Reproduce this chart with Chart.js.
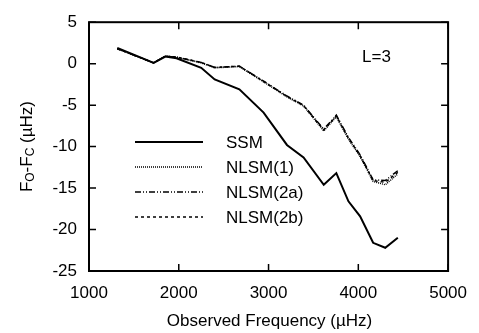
<!DOCTYPE html>
<html>
<head>
<meta charset="utf-8">
<script src="https://cdn.jsdelivr.net/npm/chart.js@4/dist/chart.umd.min.js"></script>
<style>
  body { margin: 0; background: #fff; }
  canvas { display: block; }
</style>
</head>
<body>
<canvas id="myChart" width="479" height="333"></canvas>
<script>
// observed frequencies (uHz) of the L=3 modes
const freqs = [1315, 1720, 1850, 1975, 2250, 2400, 2675, 2945, 3205, 3390, 3615, 3755, 3890, 4020, 4165, 4300, 4440];
// Fo-Fc residuals per model (uHz)
const ssm = [1.9, 0.1, 0.85, 0.65, -0.5, -1.9, -3.1, -5.9, -9.8, -11.3, -14.6, -13.2, -16.6, -18.4, -21.6, -22.2, -21.0];
const nlsm1 = [1.8, 0.1, 0.9, 0.75, 0.1, -0.5, -0.35, -2.2, -4.0, -5.1, -8.1, -6.4, -9.1, -11.2, -14.2, -14.6, -13.3];
const nlsm2a = [1.8, 0.1, 0.9, 0.8, 0.15, -0.45, -0.3, -2.1, -3.9, -5.0, -7.9, -6.2, -8.9, -11.0, -14.0, -14.1, -12.9];
const nlsm2b = [1.8, 0.1, 0.9, 0.8, 0.15, -0.45, -0.3, -2.15, -3.95, -5.05, -8.0, -6.3, -9.0, -11.1, -14.1, -14.3, -13.1];
const seriesNames = ["SSM", "NLSM(1)", "NLSM(2a)", "NLSM(2b)"];
const xTicks = [1000, 2000, 3000, 4000, 5000];
const yTicks = [5, 0, -5, -10, -15, -20, -25];

const FONT = "'Liberation Sans', Arial, sans-serif";

function toPoints(values) {
  return freqs.map((f, i) => ({ x: f, y: values[i] }));
}

// frame, inward ticks on all four sides, titles, legend and label
const decorations = {
  id: "decorations",
  afterDatasetsDraw(chart) {
    const ctx = chart.ctx;
    const area = chart.chartArea;
    const xs = chart.scales.x;
    const ys = chart.scales.y;
    ctx.save();
    ctx.strokeStyle = "#000";
    ctx.lineWidth = 1.5;
    ctx.beginPath();
    xTicks.forEach((t) => {
      const px = xs.getPixelForValue(t);
      ctx.moveTo(px, area.bottom);
      ctx.lineTo(px, area.bottom - 7);
      ctx.moveTo(px, area.top);
      ctx.lineTo(px, area.top + 7);
    });
    yTicks.forEach((t) => {
      const py = ys.getPixelForValue(t);
      ctx.moveTo(area.left, py);
      ctx.lineTo(area.left + 7, py);
      ctx.moveTo(area.right, py);
      ctx.lineTo(area.right - 7, py);
    });
    ctx.stroke();
    ctx.lineWidth = 2;
    ctx.strokeRect(area.left, area.top, area.right - area.left, area.bottom - area.top);

    ctx.fillStyle = "#000";
    ctx.font = "17px " + FONT;
    ctx.textBaseline = "middle";

    // L=3 label
    ctx.textAlign = "left";
    ctx.fillText("L=3", 362, 57);

    // legend inside the plot
    const rows = [142, 167, 192, 217];
    seriesNames.forEach((name, i) => {
      const ds = chart.data.datasets.find((d) => d.label === name);
      ctx.save();
      ctx.lineWidth = ds.borderWidth;
      ctx.setLineDash(ds.borderDash || []);
      ctx.beginPath();
      ctx.moveTo(135, rows[i]);
      ctx.lineTo(203, rows[i]);
      ctx.stroke();
      ctx.restore();
      ctx.fillText(name, 226, rows[i] + 1);
    });

    // x title
    ctx.textAlign = "center";
    ctx.fillText("Observed Frequency (\u00b5Hz)", (area.left + area.right) / 2 + 1, 321);

    // y title with subscripts
    const parts = [
      { t: "F", sub: false },
      { t: "O", sub: true },
      { t: "-F", sub: false },
      { t: "C", sub: true },
      { t: " (\u00b5Hz)", sub: false },
    ];
    const big = "17px " + FONT;
    const small = "12px " + FONT;
    let total = 0;
    parts.forEach((p) => {
      ctx.font = p.sub ? small : big;
      p.w = ctx.measureText(p.t).width;
      total += p.w;
    });
    ctx.translate(27, (area.top + area.bottom) / 2);
    ctx.rotate(-Math.PI / 2);
    ctx.textAlign = "left";
    let cx = -total / 2;
    parts.forEach((p) => {
      ctx.font = p.sub ? small : big;
      ctx.fillText(p.t, cx, p.sub ? 4 : 0);
      cx += p.w;
    });
    ctx.restore();
  },
};

new Chart(document.getElementById("myChart"), {
  type: "line",
  data: {
    datasets: [
      { label: "NLSM(1)", data: toPoints(nlsm1), borderColor: "#000", borderWidth: 1.5, borderDash: [1, 1] },
      { label: "NLSM(2a)", data: toPoints(nlsm2a), borderColor: "#000", borderWidth: 1.5, borderDash: [6, 2, 1, 2, 1, 2] },
      { label: "NLSM(2b)", data: toPoints(nlsm2b), borderColor: "#000", borderWidth: 1.5, borderDash: [3, 3] },
      { label: "SSM", data: toPoints(ssm), borderColor: "#000", borderWidth: 2 },
    ],
  },
  options: {
    responsive: false,
    animation: false,
    devicePixelRatio: 1,
    layout: { padding: { top: 14, right: 25, left: 0, bottom: 0 } },
    elements: { point: { radius: 0 }, line: { tension: 0, fill: false } },
    scales: {
      x: {
        type: "linear",
        min: 1000,
        max: 5000,
        afterFit: (s) => { s.height = 62; },
        afterBuildTicks: (s) => { s.ticks = xTicks.map((v) => ({ value: v })); },
        grid: { display: false, drawTicks: false },
        border: { display: false },
        ticks: {
          color: "#000",
          padding: 12,
          maxRotation: 0,
          font: { size: 17, family: FONT },
          callback: (v) => String(v),
        },
      },
      y: {
        type: "linear",
        min: -25,
        max: 5,
        afterFit: (s) => { s.width = 89; },
        afterBuildTicks: (s) => { s.ticks = yTicks.map((v) => ({ value: v })); },
        grid: { display: false, drawTicks: false },
        border: { display: false },
        ticks: {
          color: "#000",
          padding: 12,
          font: { size: 17, family: FONT },
          callback: (v) => String(v),
        },
      },
    },
    plugins: {
      legend: { display: false },
      tooltip: { enabled: false },
    },
  },
  plugins: [decorations],
});
</script>
</body>
</html>
